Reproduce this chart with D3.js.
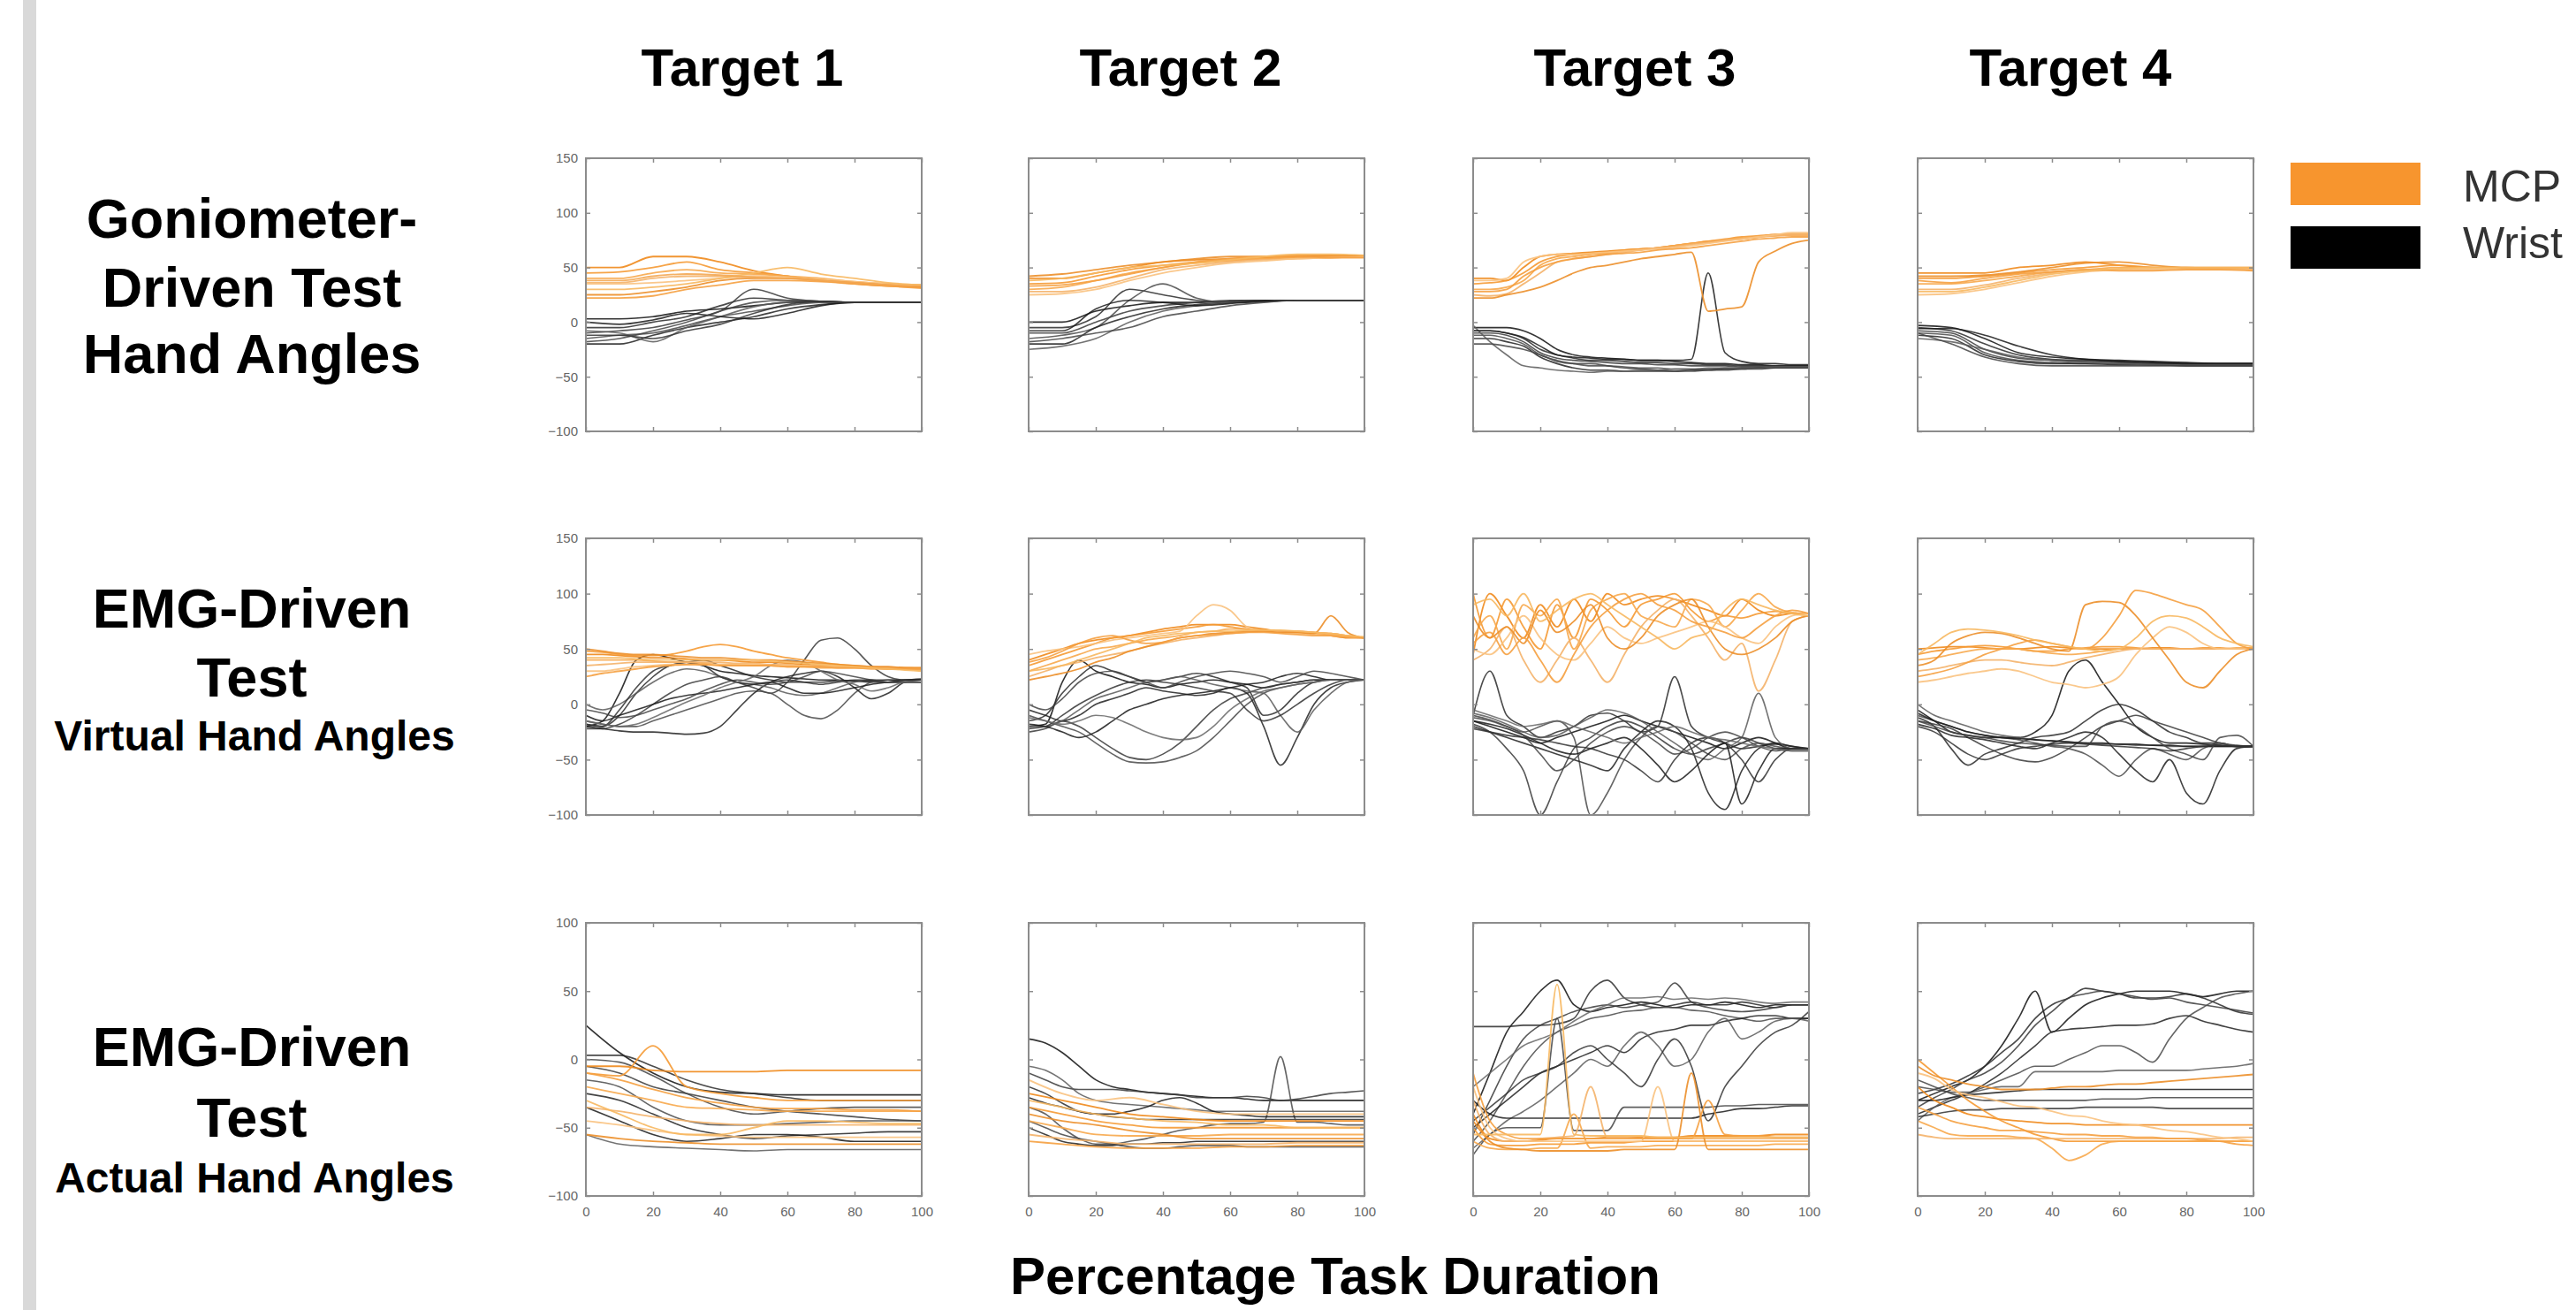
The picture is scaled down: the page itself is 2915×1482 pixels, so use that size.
<!DOCTYPE html>
<html>
<head>
<meta charset="utf-8">
<script src="https://cdn.jsdelivr.net/npm/d3@7"></script>
<style>
body { margin: 0; background: #fff; }
svg { display: block; }
</style>
</head>
<body>
<script>
// column / row headings
var targets = ["Target 1", "Target 2", "Target 3", "Target 4"];
var rowTitles = [
  {big: ["Goniometer-", "Driven Test", "Hand Angles"], small: null},
  {big: ["EMG-Driven", "Test"], small: "Virtual Hand Angles"},
  {big: ["EMG-Driven", "Test"], small: "Actual Hand Angles"}
];
var legendItems = ["MCP", "Wrist"];

// sampling grids (percentage task duration)
var pct11 = [0, 10, 20, 30, 40, 50, 60, 70, 80, 90, 100];
var pct21 = [0, 5, 10, 15, 20, 25, 30, 35, 40, 45, 50, 55, 60, 65, 70, 75, 80, 85, 90, 95, 100];

var xTicks = [0, 20, 40, 60, 80, 100];
var yTicksTall = [-100, -50, 0, 50, 100, 150];
var yTicksShort = [-100, -50, 0, 50, 100];

// ---- Goniometer-driven test ----
var gonioT1Mcp = [
  [50,50,60,60,55,47,42,38,35,33,32],
  [45,46,50,55,48,45,42,38,36,34,33],
  [40,40,45,48,45,44,42,40,37,35,34],
  [36,36,40,42,42,42,40,38,36,35,34],
  [35,35,36,38,40,42,41,39,37,35,33],
  [25,25,28,32,38,40,40,38,36,34,32],
  [22,22,24,30,34,38,38,37,35,33,31],
  [30,30,32,35,40,45,50,44,40,36,34],
  [38,38,42,44,43,41,40,38,36,34,33]
];
var gonioT1Wrist = [
  [3,3,5,10,12,15,18,19,18,18,18],
  [-5,-5,0,5,15,22,20,19,18,18,18],
  [-10,-8,-5,2,10,30,22,19,18,18,18],
  [-15,-12,-10,-3,5,10,15,18,18,18,18],
  [-20,-20,-12,-5,0,5,12,16,18,18,18],
  [-8,-10,-18,-5,5,14,18,18,18,18,18],
  [0,-2,2,8,5,3,8,15,18,18,18],
  [-18,-15,-8,0,10,18,20,19,18,18,18],
  [-12,-12,-15,-8,-2,8,16,19,18,18,18]
];
var gonioT2Mcp = [
  [40,40,45,50,55,57,58,59,60,60,60],
  [35,36,42,48,52,55,57,58,59,60,60],
  [30,32,38,45,50,54,56,58,59,60,60],
  [28,28,32,40,48,52,55,57,58,59,60],
  [25,26,30,38,45,50,54,56,58,59,60],
  [42,44,48,52,55,58,60,60,61,61,61],
  [33,34,38,44,50,55,58,60,60,59,59],
  [38,40,45,50,52,54,57,60,62,62,61]
];
var gonioT2Wrist = [
  [0,0,10,15,18,18,19,20,20,20,20],
  [-5,-5,5,30,25,20,18,19,20,20,20],
  [-10,-10,0,10,15,18,20,20,20,20,20],
  [-15,-12,-5,20,35,22,18,19,20,20,20],
  [-20,-20,-5,5,12,16,18,20,20,20,20],
  [-25,-22,-15,0,10,15,18,19,20,20,20],
  [-8,-8,12,20,18,15,17,19,20,20,20],
  [-18,-15,-10,-5,5,10,15,18,20,20,20]
];
var gonioT3Mcp = [
  [40,40,38,50,60,62,63,64,65,66,67,68,70,72,74,75,76,78,80,80,80],
  [35,36,38,45,55,60,62,63,64,66,67,68,70,72,74,76,78,79,80,80,80],
  [30,30,32,38,52,58,60,62,63,65,66,68,70,72,73,75,77,78,79,80,80],
  [25,24,26,35,45,55,58,60,62,64,66,68,69,71,73,75,76,78,79,80,80],
  [38,38,40,55,60,62,62,63,64,65,66,67,68,70,72,74,76,78,80,82,82],
  [22,22,25,28,32,38,45,50,52,55,58,60,62,64,10,12,14,55,65,72,75],
  [28,28,30,42,50,55,58,60,62,63,64,66,67,68,70,72,74,76,77,78,78]
];
var gonioT3Wrist = [
  [-5,-5,-5,-8,-15,-25,-30,-32,-33,-34,-35,-35,-36,-37,-38,-38,-39,-39,-40,-40,-40],
  [-8,-8,-10,-15,-25,-30,-33,-35,-35,-36,-37,-37,-38,-38,-39,-39,-40,-40,-40,-40,-40],
  [-10,-10,-12,-18,-28,-33,-35,-36,-37,-38,-38,-39,-39,-40,-40,-40,-41,-41,-41,-41,-41],
  [-12,-12,-15,-20,-30,-35,-38,-40,-40,-41,-42,-42,-43,-43,-43,-42,-42,-42,-42,-42,-42],
  [-15,-15,-18,-22,-32,-38,-42,-44,-44,-45,-45,-45,-45,-44,-44,-43,-43,-42,-42,-42,-42],
  [-3,-18,-30,-40,-42,-44,-45,-46,-45,-45,-44,-44,-43,-43,-42,-42,-42,-42,-41,-41,-41],
  [-8,-8,-10,-14,-22,-30,-32,-33,-34,-34,-35,-35,-35,-34,45,-28,-36,-38,-38,-39,-39],
  [-20,-20,-22,-25,-30,-36,-38,-38,-40,-42,-43,-44,-45,-45,-44,-44,-43,-43,-42,-42,-42]
];
var gonioT4Mcp = [
  [45,45,45,50,52,55,52,50,50,49,48],
  [40,40,42,45,48,50,52,50,49,48,48],
  [35,35,38,42,46,48,50,50,49,48,48],
  [30,30,34,40,45,48,48,48,48,48,48],
  [25,26,30,36,42,46,48,49,49,49,49],
  [42,42,43,46,50,54,55,52,50,50,50],
  [38,36,40,44,46,48,47,47,48,48,47],
  [28,28,32,38,44,47,49,50,50,50,50]
];
var gonioT4Wrist = [
  [-3,-5,-15,-28,-32,-34,-35,-36,-37,-38,-38],
  [-5,-8,-20,-30,-34,-35,-36,-37,-38,-38,-38],
  [-8,-10,-25,-33,-35,-36,-37,-38,-38,-38,-38],
  [-10,-12,-28,-35,-37,-38,-38,-39,-39,-39,-39],
  [-12,-15,-30,-36,-38,-38,-39,-39,-40,-40,-40],
  [-15,-18,-25,-32,-35,-37,-38,-39,-39,-39,-39],
  [-6,-6,-12,-22,-30,-34,-36,-37,-38,-38,-38],
  [-10,-20,-32,-38,-40,-40,-40,-40,-40,-40,-40]
];

// ---- EMG-driven test, virtual hand ----
var virtT1Mcp = [
  [45,45,44,43,42,42,41,40,40,39,38,38,37,36,35,34,34,33,33,32,32],
  [48,47,45,44,44,45,48,52,54,52,48,45,42,40,38,36,35,34,33,33,32],
  [40,40,40,40,39,38,38,37,36,36,35,35,34,34,33,33,33,32,32,32,31],
  [35,36,37,38,38,38,38,38,38,37,37,36,36,35,35,34,34,33,33,32,32],
  [30,30,32,34,35,36,36,36,36,36,36,35,35,35,34,34,34,33,33,33,33],
  [50,48,46,45,45,44,43,42,42,41,40,40,39,38,37,36,35,34,34,33,33],
  [25,28,30,32,34,35,36,36,35,35,35,35,34,34,34,33,33,33,32,32,32],
  [42,42,42,41,40,40,40,40,40,40,40,39,38,37,36,35,34,33,32,31,30]
];
var virtT1Wrist = [
  [-20,-15,10,40,45,42,38,35,30,28,26,25,24,23,22,22,21,21,20,20,20],
  [-18,-20,-10,10,25,35,38,40,35,30,25,22,20,20,20,21,21,20,20,20,20],
  [-22,-22,-18,-10,0,10,18,22,25,20,15,10,20,40,58,60,50,35,25,22,22],
  [-15,-18,-20,-20,-15,-10,-5,0,5,10,12,10,0,-10,-13,-5,10,20,22,22,22],
  [-20,-22,-24,-25,-25,-26,-27,-26,-20,-5,10,20,25,28,30,25,15,5,10,20,22],
  [0,-5,0,10,20,28,32,30,25,20,18,15,10,8,10,15,20,22,20,21,22],
  [-10,-15,-10,-5,0,5,8,10,12,15,18,20,15,10,10,12,15,18,20,22,23],
  [-5,-8,-12,-10,-5,0,5,12,18,22,20,18,20,25,30,28,25,22,20,20,20],
  [-18,-20,-5,15,30,35,38,35,25,20,18,20,22,20,18,20,22,22,22,22,22],
  [-15,-18,-20,-18,-12,-5,2,8,15,20,25,35,40,38,30,22,18,12,15,20,20]
];
var virtT2Mcp = [
  [40,45,50,55,58,60,62,65,68,70,72,72,72,70,68,66,65,64,62,60,60],
  [35,40,45,50,55,60,62,64,66,68,70,72,70,68,67,66,66,65,64,62,60],
  [30,35,40,45,50,52,55,58,60,62,65,66,68,68,67,66,65,64,63,62,60],
  [25,30,35,38,42,45,48,52,55,58,60,62,64,65,66,66,66,65,64,62,60],
  [45,48,50,52,55,58,60,62,64,66,80,90,85,70,66,65,64,63,62,61,60],
  [22,25,28,32,38,42,48,52,56,60,62,64,65,66,66,65,65,64,80,65,60],
  [38,42,48,55,60,62,58,55,56,60,62,63,64,65,65,64,63,62,62,61,60],
  [30,32,35,40,45,50,55,60,62,64,65,66,66,67,67,67,66,65,64,62,61]
];
var virtT2Wrist = [
  [-20,-18,20,40,30,25,20,18,15,18,20,22,20,18,15,18,20,22,22,22,22],
  [-15,-10,10,25,35,30,25,20,22,25,28,25,20,15,-10,-5,10,20,22,22,22],
  [-25,-22,-15,-20,-30,-40,-48,-50,-45,-35,-20,-5,5,10,15,18,20,22,22,22,22],
  [-10,-15,-20,-25,-35,-45,-52,-53,-52,-48,-42,-30,-15,0,10,15,18,20,22,22,22],
  [-5,-10,-15,-10,0,5,10,15,12,10,8,10,15,10,-20,-55,-30,0,15,20,22],
  [-20,-20,-15,-5,5,10,15,20,22,25,22,18,15,12,10,-10,-25,-5,10,20,22],
  [-18,-20,-25,-30,-25,-15,-5,0,5,8,10,12,15,18,20,25,28,25,22,22,22],
  [0,-5,5,20,28,30,25,20,15,20,25,28,30,28,25,20,25,30,28,25,22],
  [-22,-20,-10,0,8,15,20,22,20,18,15,12,10,-5,-15,-10,0,10,18,22,22],
  [-12,-15,-18,-15,-10,-12,-18,-25,-30,-32,-30,-20,-5,5,12,15,18,20,22,22,22]
];
var virtT3Mcp = [
  [45,100,80,60,90,70,95,75,100,90,95,98,95,90,85,80,95,85,80,82,82],
  [100,60,95,70,50,90,60,95,85,70,90,95,100,85,75,80,78,82,84,82,82],
  [60,80,50,90,80,95,50,85,95,100,80,75,70,95,90,70,85,100,88,83,82],
  [40,50,70,40,20,40,60,40,20,45,70,85,95,80,60,40,55,12,40,75,80],
  [50,45,60,80,60,45,40,55,70,60,55,60,65,70,75,70,60,55,70,80,82],
  [80,60,70,55,85,65,75,90,60,50,60,80,90,95,70,50,45,50,60,75,80],
  [55,65,45,60,40,20,45,70,85,95,100,90,85,75,70,65,60,70,80,85,82],
  [90,95,80,100,75,85,95,100,90,80,70,60,50,60,65,85,95,90,85,82,80]
];
var virtT3Wrist = [
  [-15,-20,-25,-30,-35,-30,-25,-20,-15,-10,-15,-20,-25,-30,-35,-40,-35,-30,-35,-40,-40],
  [-10,30,-10,-20,-30,-25,-20,-10,-8,-15,-25,-20,25,-20,-30,-35,-40,-38,-36,-38,-40],
  [-18,-25,-40,-60,-100,-70,-40,-30,-20,-15,-20,-30,-40,-45,-40,-35,-30,-35,-40,-42,-42],
  [-12,-15,-20,-25,-20,-15,-30,-100,-80,-50,-30,-20,-25,-35,-45,-50,-40,-35,-38,-40,-40],
  [-20,-25,-30,-35,-40,-45,-50,-55,-60,-40,-25,-15,-20,-40,-80,-95,-60,-40,-35,-38,-40],
  [-8,-12,-18,-25,-30,-28,-20,-12,-5,-8,-15,-25,-35,-45,-50,-40,-30,10,-30,-40,-40],
  [-15,-18,-22,-28,-35,-42,-45,-40,-35,-30,-40,-55,-70,-60,-45,-35,-90,-60,-40,-40,-40],
  [-10,-14,-20,-28,-45,-60,-50,-35,-25,-20,-25,-35,-45,-40,-30,-25,-30,-38,-42,-40,-40],
  [-22,-25,-28,-30,-32,-35,-38,-40,-45,-50,-60,-70,-50,-35,-30,-35,-50,-70,-50,-40,-40],
  [-5,-10,-15,-20,-18,-15,-20,-25,-30,-35,-30,-25,-20,-25,-30,-32,-35,-38,-40,-42,-42]
];
var virtT4Mcp = [
  [50,51,52,52,51,50,50,51,52,51,50,50,50,50,51,51,50,50,50,50,50],
  [45,48,50,52,53,52,50,48,48,50,51,52,52,51,50,50,50,51,51,50,50],
  [40,42,45,48,50,50,50,48,46,45,46,48,50,50,50,50,50,50,50,51,51],
  [30,32,35,38,40,40,38,36,35,38,42,45,48,50,50,50,50,50,50,50,50],
  [20,22,25,28,30,32,30,25,20,18,15,18,25,45,60,70,65,55,50,50,50],
  [35,40,55,62,65,64,60,55,50,48,90,93,92,80,60,40,20,15,30,45,50],
  [25,28,32,38,45,50,55,58,55,52,50,60,80,103,100,95,90,85,70,55,50],
  [45,55,65,68,67,65,62,58,55,52,50,48,50,60,75,80,78,70,60,55,52]
];
var virtT4Wrist = [
  [-5,-15,-25,-28,-30,-30,-30,-25,-10,30,40,20,0,-20,-30,-35,-35,-36,-37,-38,-38],
  [-12,-20,-40,-55,-45,-40,-35,-30,-28,-25,-15,-5,0,-5,-15,-25,-30,-35,-35,-38,-38],
  [-15,-18,-22,-30,-38,-45,-50,-52,-48,-40,-30,-20,-15,-10,-15,-20,-25,-30,-35,-37,-38],
  [-10,-15,-20,-25,-28,-30,-32,-35,-38,-40,-45,-55,-65,-50,-40,-45,-50,-40,-35,-38,-38],
  [-18,-22,-28,-30,-32,-35,-38,-40,-35,-30,-25,-30,-45,-60,-70,-50,-80,-90,-60,-40,-38],
  [0,-10,-15,-20,-25,-28,-30,-32,-33,-34,-35,-36,-36,-37,-37,-38,-38,-38,-38,-38,-38],
  [-8,-15,-20,-25,-28,-30,-31,-32,-33,-34,-35,-35,-36,-36,-37,-37,-38,-38,-38,-38,-38],
  [-15,-20,-25,-28,-30,-33,-35,-36,-37,-38,-38,-20,-15,-20,-30,-40,-45,-50,-30,-28,-38],
  [-20,-25,-35,-45,-50,-45,-40,-38,-36,-35,-36,-37,-38,-39,-40,-42,-40,-38,-37,-38,-38]
];

// ---- EMG-driven test, actual hand ----
var actT1Mcp = [
  [-5,-5,-8,-9,-9,-9,-8,-8,-8,-8,-8],
  [-10,-12,10,-20,-25,-28,-30,-30,-30,-30,-30],
  [-20,-25,-30,-35,-36,-37,-38,-38,-38,-38,-38],
  [-35,-38,-42,-45,-47,-48,-48,-48,-48,-48,-48],
  [-45,-48,-52,-55,-56,-57,-57,-57,-57,-57,-57],
  [-55,-58,-60,-61,-62,-62,-62,-62,-62,-62,-62],
  [-10,-15,-22,-28,-32,-35,-36,-36,-37,-37,-38],
  [-30,-40,-50,-55,-55,-50,-45,-45,-46,-47,-47]
];
var actT1Wrist = [
  [25,5,-10,-20,-24,-25,-26,-26,-26,-26,-26],
  [3,3,-5,-15,-22,-25,-28,-30,-30,-30,-30],
  [-5,-10,-20,-25,-30,-35,-38,-40,-42,-44,-45],
  [-15,-20,-35,-45,-48,-48,-47,-46,-45,-45,-45],
  [-25,-30,-40,-50,-55,-58,-56,-55,-54,-53,-53],
  [-55,-62,-64,-65,-66,-67,-66,-66,-66,-66,-66],
  [-35,-45,-55,-60,-58,-55,-55,-57,-60,-60,-60],
  [0,-2,-12,-25,-35,-40,-38,-36,-35,-35,-35]
];
var actT2Mcp = [
  [-25,-30,-35,-40,-42,-44,-45,-45,-45,-45,-45],
  [-35,-40,-45,-48,-50,-50,-50,-50,-50,-50,-50],
  [-45,-50,-55,-56,-56,-56,-55,-55,-55,-55,-55],
  [-55,-58,-60,-62,-62,-62,-62,-62,-61,-61,-61],
  [-15,-25,-30,-28,-33,-38,-40,-40,-40,-40,-40],
  [-40,-45,-48,-52,-55,-58,-58,-58,-58,-58,-58],
  [-60,-62,-64,-65,-65,-65,-64,-64,-63,-63,-63],
  [-30,-35,-40,-43,-45,-46,-48,-48,-50,-50,-50]
];
var actT2Wrist = [
  [15,12,5,-5,-15,-20,-22,-24,-25,-26,-27,-28,-28,-29,-30,-30,-30,-30,-30,-30,-30],
  [-20,-25,-32,-38,-40,-42,-43,-44,-44,-44,-44,-44,-44,-44,-44,-44,-44,-44,-44,-44,-44],
  [-10,-15,-20,-22,-22,-22,-23,-24,-25,-26,-28,-28,-28,-27,-28,-30,-29,-27,-25,-24,-23],
  [-35,-40,-50,-58,-62,-62,-60,-58,-55,-52,-50,-48,-47,-47,-46,2,-46,-46,-47,-48,-48],
  [-50,-55,-60,-62,-63,-63,-62,-62,-61,-61,-60,-60,-60,-60,-60,-60,-60,-60,-60,-60,-60],
  [-5,-8,-15,-25,-30,-32,-33,-34,-35,-36,-37,-38,-38,-38,-38,-38,-38,-38,-38,-38,-38],
  [-28,-32,-35,-38,-40,-40,-38,-35,-30,-28,-32,-38,-40,-41,-42,-42,-42,-42,-42,-42,-42],
  [-45,-50,-55,-58,-60,-62,-64,-65,-65,-64,-63,-63,-63,-64,-64,-64,-64,-64,-64,-64,-64]
];
var actT3Mcp = [
  [-40,-58,-60,-60,-59,-58,-58,-58,-57,-57,-57,-57,-57,-56,-56,-56,-56,-56,-55,-55,-55],
  [-50,-62,-63,-63,-62,-62,-62,-61,-61,-61,-60,-60,-60,-60,-60,-60,-60,-60,-60,-60,-60],
  [-60,-65,-66,-66,-65,-65,-40,-65,-64,-64,-64,-63,-63,-63,-63,-63,-63,-63,-62,-62,-62],
  [-30,-55,-60,-60,-58,-57,-56,-20,-57,-57,-58,-58,-58,-58,-58,-58,-58,-58,-58,-58,-58],
  [-20,-50,-58,-60,-60,-60,-60,-60,-60,-60,-60,-20,-60,-60,-60,-60,-60,-60,-60,-60,-60],
  [-45,-60,-65,-66,-67,-67,-67,-67,-67,-66,-66,-66,-66,-10,-66,-66,-66,-66,-66,-66,-66],
  [-10,-45,-55,-58,-58,-58,-58,-58,-58,-58,-58,-58,-58,-58,-30,-55,-56,-56,-57,-57,-57],
  [-55,-55,-55,-55,-55,55,-55,-56,-56,-56,-56,-57,-57,-57,-57,-57,-57,-57,-57,-57,-57]
];
var actT3Wrist = [
  [-40,-10,20,35,50,58,40,35,38,40,42,40,38,40,40,42,40,38,40,40,40],
  [24,24,24,25,25,26,30,50,58,45,40,38,40,42,40,40,42,40,38,40,40],
  [-55,-30,-5,15,25,30,35,38,40,38,40,42,56,42,38,36,35,36,38,40,40],
  [-60,-45,-25,-5,10,20,25,30,32,35,36,38,38,36,35,32,30,28,30,30,30],
  [-50,-40,-30,-20,-10,-5,0,5,10,5,15,20,22,25,25,28,30,32,32,30,30],
  [-65,-55,-45,-38,-30,-20,-10,0,-5,10,20,10,-5,0,20,30,15,20,28,30,28],
  [-30,-40,-43,-43,-43,-43,-43,-43,-43,-43,-43,-43,-43,-43,-40,-38,-36,-36,-35,-34,-34],
  [-70,-55,-50,-50,-50,30,-52,-52,-52,-35,-35,-35,-35,-35,-35,-34,-34,-33,-33,-33,-33],
  [-45,-35,-25,-15,-10,-5,5,10,0,-10,-20,0,15,-5,-45,-20,-5,10,20,25,35],
  [-20,-10,0,10,15,20,28,35,40,45,45,46,44,45,44,45,44,42,41,42,42]
];
var actT4Mcp = [
  [-20,-30,-35,-40,-42,-44,-45,-46,-47,-47,-48,-48,-48,-48,-48,-48,-48,-48,-48,-48,-48],
  [0,-10,-20,-30,-38,-45,-50,-55,-58,-60,-60,-60,-60,-60,-60,-60,-60,-60,-60,-60,-60],
  [-45,-50,-55,-56,-56,-56,-57,-58,-65,-74,-70,-62,-60,-60,-60,-60,-60,-60,-60,-60,-60],
  [-55,-57,-58,-58,-58,-58,-58,-58,-58,-58,-58,-58,-58,-58,-58,-58,-58,-58,-58,-57,-57],
  [-10,-14,-22,-26,-28,-31,-34,-35,-38,-41,-42,-45,-47,-48,-50,-52,-53,-55,-57,-58,-60],
  [-5,-12,-15,-18,-20,-22,-22,-22,-21,-20,-20,-19,-18,-18,-17,-16,-15,-14,-13,-12,-11],
  [-35,-40,-45,-48,-50,-52,-52,-53,-54,-55,-55,-56,-56,-57,-57,-58,-58,-59,-60,-62,-63]
];
var actT4Wrist = [
  [-30,-25,-20,-15,-5,10,30,50,20,30,40,45,48,50,50,50,48,46,48,50,50],
  [-25,-22,-18,-12,-5,5,15,30,40,45,52,50,48,45,45,46,48,45,40,35,33],
  [-35,-28,-22,-15,-10,-2,10,25,35,45,48,50,48,46,44,45,42,40,38,36,34],
  [-20,-22,-24,-24,-20,-15,-10,-5,-5,0,5,10,10,5,-2,15,30,38,45,48,50],
  [-40,-35,-30,-25,-18,-10,0,10,20,22,23,24,25,25,26,30,32,28,25,22,20],
  [-45,-35,-28,-25,-22,-20,-20,-9,-9,-9,-9,-9,-8,-8,-8,-8,-8,-7,-6,-5,-3],
  [-30,-30,-28,-26,-25,-24,-23,-22,-22,-22,-22,-22,-22,-22,-22,-22,-22,-22,-22,-22,-22],
  [-15,-20,-25,-28,-30,-30,-30,-30,-30,-30,-30,-29,-29,-29,-28,-28,-28,-28,-28,-28,-28],
  [-42,-40,-38,-37,-37,-36,-36,-36,-36,-36,-35,-35,-35,-35,-35,-36,-36,-36,-36,-36,-36]
];

var panelRows = [
  {mcp: [gonioT1Mcp, gonioT2Mcp, gonioT3Mcp, gonioT4Mcp], wrist: [gonioT1Wrist, gonioT2Wrist, gonioT3Wrist, gonioT4Wrist], domain: [-100, 150], ticks: yTicksTall},
  {mcp: [virtT1Mcp, virtT2Mcp, virtT3Mcp, virtT4Mcp], wrist: [virtT1Wrist, virtT2Wrist, virtT3Wrist, virtT4Wrist], domain: [-100, 150], ticks: yTicksTall},
  {mcp: [actT1Mcp, actT2Mcp, actT3Mcp, actT4Mcp], wrist: [actT1Wrist, actT2Wrist, actT3Wrist, actT4Wrist], domain: [-100, 100], ticks: yTicksShort}
];

var mcpColors = ["#f08a1c", "#f59a34", "#f7a84c", "#f4b26a", "#f9c27f", "#ec8f2a", "#f5a040", "#f7b860", "#f3a955"];
var wristColors = ["#111111", "#2b2b2b", "#3a3a3a", "#4a4a4a", "#222222", "#5a5a5a", "#1a1a1a", "#444444", "#333333", "#666666"];

// layout
var W = 2915, H = 1482;
var colLeft = [663, 1164, 1667, 2170];
var panelW = 380;
var rowTop = [179, 609, 1044];
var rowH = [309, 313, 309];
var frameColor = "#8c8c8c";
var font = "'Liberation Sans', Arial, sans-serif";

var svg = d3.select("body").append("svg")
  .attr("width", W)
  .attr("height", H);

svg.append("rect")
  .attr("x", 26).attr("y", 0)
  .attr("width", 15).attr("height", H)
  .attr("fill", "#d9d9d9");

// column titles
var titleX = [840, 1336, 1850, 2343];
svg.selectAll(".col-title")
  .data(targets)
  .enter().append("text")
  .attr("class", "col-title")
  .attr("x", function(d, i) { return titleX[i]; })
  .attr("y", 97)
  .attr("text-anchor", "middle")
  .attr("font-family", font)
  .attr("font-weight", "bold")
  .attr("font-size", 60)
  .text(function(d) { return d; });

// row titles
var rowBase = [[269, 347, 422], [710, 788, 849], [1206, 1286, 1349]];
rowTitles.forEach(function(rt, r) {
  rt.big.forEach(function(line, k) {
    svg.append("text")
      .attr("x", 285).attr("y", rowBase[r][k])
      .attr("text-anchor", "middle")
      .attr("font-family", font).attr("font-weight", "bold")
      .attr("font-size", 63)
      .text(line);
  });
  if (rt.small) {
    svg.append("text")
      .attr("x", 288).attr("y", rowBase[r][2])
      .attr("text-anchor", "middle")
      .attr("font-family", font).attr("font-weight", "bold")
      .attr("font-size", 48)
      .text(rt.small);
  }
});

// bottom title
svg.append("text")
  .attr("x", 1511).attr("y", 1464)
  .attr("text-anchor", "middle")
  .attr("font-family", font).attr("font-weight", "bold")
  .attr("font-size", 60)
  .text("Percentage Task Duration");

// legend
var legendColors = ["#f7952e", "#000000"];
var legend = svg.append("g").attr("transform", "translate(2592,184)");
legendItems.forEach(function(name, i) {
  legend.append("rect")
    .attr("x", 0).attr("y", i * 72)
    .attr("width", 147).attr("height", 48)
    .attr("fill", legendColors[i]);
  legend.append("text")
    .attr("x", 195).attr("y", i * 72 + 44 + (i ? -8 : 0))
    .attr("font-family", font)
    .attr("font-size", 50)
    .attr("fill", "#333")
    .text(name);
});

var x = d3.scaleLinear().domain([0, 100]).range([0, panelW]);

function series(vals) {
  var grid = vals.length === 11 ? pct11 : pct21;
  return vals.map(function(v, i) { return [grid[i], v]; });
}

panelRows.forEach(function(row, r) {
  var h = rowH[r];
  var y = d3.scaleLinear().domain(row.domain).range([h, 0]);
  var line = d3.line()
    .x(function(d) { return x(d[0]); })
    .y(function(d) { return y(d[1]); })
    .curve(d3.curveMonotoneX);

  for (var c = 0; c < 4; c++) {
    var g = svg.append("g")
      .attr("transform", "translate(" + colLeft[c] + "," + rowTop[r] + ")");

    var clipId = "clip" + r + "_" + c;
    g.append("clipPath").attr("id", clipId)
      .append("rect").attr("width", panelW).attr("height", h);

    var plot = g.append("g").attr("clip-path", "url(#" + clipId + ")");

    plot.selectAll(".wrist")
      .data(row.wrist[c])
      .enter().append("path")
      .attr("class", "wrist")
      .attr("d", function(d) { return line(series(d)); })
      .attr("fill", "none")
      .attr("stroke", function(d, i) { return wristColors[i % wristColors.length]; })
      .attr("stroke-width", 1.6)
      .attr("stroke-opacity", 0.85);

    plot.selectAll(".mcp")
      .data(row.mcp[c])
      .enter().append("path")
      .attr("class", "mcp")
      .attr("d", function(d) { return line(series(d)); })
      .attr("fill", "none")
      .attr("stroke", function(d, i) { return mcpColors[i % mcpColors.length]; })
      .attr("stroke-width", 1.8)
      .attr("stroke-opacity", 0.9);

    // axes with inward ticks on all sides
    var left = d3.axisLeft(y).tickValues(row.ticks).tickSize(-5).tickPadding(9);
    if (c > 0) left.tickFormat("");
    var right = d3.axisRight(y).tickValues(row.ticks).tickSize(-5).tickFormat("");
    var top = d3.axisTop(x).tickValues(xTicks).tickSize(-5).tickFormat("");
    var bottom = d3.axisBottom(x).tickValues(xTicks).tickSize(-5).tickPadding(12);
    if (r < 2) bottom.tickFormat("");

    var axes = [
      g.append("g").call(left),
      g.append("g").attr("transform", "translate(" + panelW + ",0)").call(right),
      g.append("g").call(top),
      g.append("g").attr("transform", "translate(0," + h + ")").call(bottom)
    ];
    axes.forEach(function(a) {
      a.select(".domain").remove();
      a.selectAll("line").attr("stroke", frameColor).attr("stroke-width", 1.5);
      a.selectAll("text")
        .attr("font-family", font)
        .attr("font-size", 15)
        .attr("fill", "#666");
    });

    g.append("rect")
      .attr("width", panelW).attr("height", h)
      .attr("fill", "none")
      .attr("stroke", frameColor)
      .attr("stroke-width", 2);
  }
});
</script>
</body>
</html>
